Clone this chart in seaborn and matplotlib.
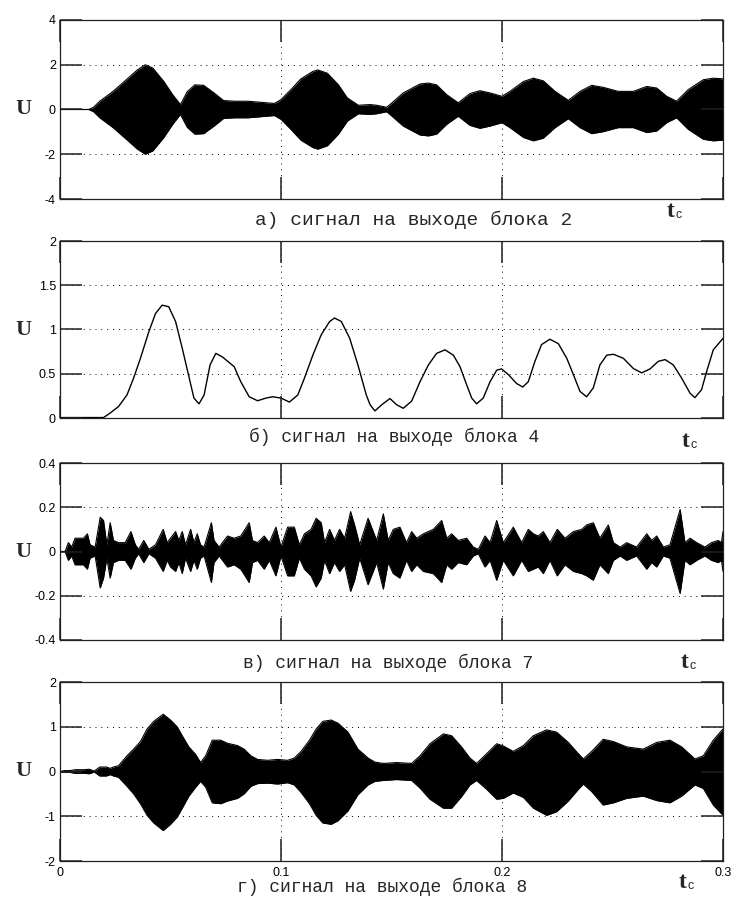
import numpy as np
import matplotlib.pyplot as plt
import seaborn as sns

# ---- values (time in s, signal U) ----
# panel a) envelope of the modulated carrier, block 2 (symmetric)
p1_t = [0.0, 0.013, 0.0152, 0.018, 0.024, 0.030, 0.035, 0.0386, 0.042, 0.047,
        0.051, 0.0545, 0.0576, 0.061, 0.065, 0.0697, 0.074, 0.079, 0.085, 0.091,
        0.097, 0.100, 0.1045, 0.109, 0.1144, 0.1167, 0.121, 0.126, 0.130, 0.135,
        0.1403, 0.1433, 0.1478, 0.1493, 0.1553, 0.1629, 0.1667, 0.1704, 0.175, 0.1802,
        0.1855, 0.19, 0.1946, 0.2, 0.2036, 0.2097, 0.2142, 0.2187, 0.224, 0.23,
        0.2353, 0.2406, 0.2458, 0.2526, 0.2594, 0.2655, 0.27, 0.2745, 0.279, 0.2843,
        0.2911, 0.2956, 0.3]
p1_amp = [0.0, 0.0, 0.1, 0.37, 0.81, 1.33, 1.77, 2.0, 1.85, 1.25,
          0.66, 0.22, 0.8, 1.1, 1.08, 0.74, 0.4, 0.37, 0.37, 0.32,
          0.27, 0.44, 0.89, 1.37, 1.7, 1.77, 1.62, 1.1, 0.52, 0.19,
          0.22, 0.19, 0.1, 0.22, 0.74, 1.14, 1.18, 1.1, 0.66, 0.3,
          0.71, 0.84, 0.74, 0.59, 0.81, 1.25, 1.4, 1.28, 0.81, 0.41,
          0.81, 1.08, 0.99, 0.81, 0.81, 1.03, 0.96, 0.59, 0.37, 0.89,
          1.33, 1.4, 1.37]

# panel б) smooth output of block 4
p2_t = [0.0, 0.0197, 0.0227, 0.0265, 0.0303, 0.0333, 0.0364, 0.0402, 0.0432, 0.0462,
        0.0492, 0.0523, 0.0553, 0.0583, 0.0606, 0.0629, 0.0652, 0.0679, 0.0705, 0.0735,
        0.0788, 0.0818, 0.0856, 0.0894, 0.0932, 0.0962, 0.1, 0.1038, 0.1076, 0.1106,
        0.1144, 0.1182, 0.122, 0.1242, 0.1273, 0.1311, 0.1348, 0.1386, 0.1403, 0.1425,
        0.1456, 0.1493, 0.1523, 0.1553, 0.1591, 0.1629, 0.1667, 0.1704, 0.1742, 0.178,
        0.181, 0.184, 0.1863, 0.1885, 0.1915, 0.1946, 0.1976, 0.1998, 0.2029, 0.2066,
        0.2094, 0.2119, 0.2149, 0.2179, 0.2217, 0.2255, 0.2293, 0.2323, 0.2353, 0.2383,
        0.2413, 0.2443, 0.2474, 0.2504, 0.2549, 0.2594, 0.2632, 0.267, 0.2707, 0.2738,
        0.2775, 0.2813, 0.2851, 0.2873, 0.2903, 0.2926, 0.2956, 0.3]
p2_u = [0.005, 0.005, 0.056, 0.13, 0.26, 0.45, 0.675, 0.975, 1.18, 1.275,
        1.257, 1.09, 0.79, 0.47, 0.225, 0.16, 0.26, 0.6, 0.73, 0.69,
        0.58, 0.41, 0.24, 0.195, 0.225, 0.24, 0.225, 0.18, 0.26, 0.45,
        0.71, 0.94, 1.09, 1.13, 1.09, 0.90, 0.6, 0.26, 0.15, 0.08,
        0.15, 0.22, 0.15, 0.11, 0.19, 0.41, 0.6, 0.73, 0.77, 0.71,
        0.58, 0.375, 0.225, 0.16, 0.225, 0.41, 0.54, 0.555, 0.49, 0.39,
        0.35, 0.41, 0.64, 0.83, 0.89, 0.84, 0.675, 0.49, 0.3, 0.24,
        0.34, 0.6, 0.71, 0.72, 0.675, 0.56, 0.51, 0.555, 0.64, 0.66,
        0.6, 0.45, 0.28, 0.23, 0.32, 0.525, 0.77, 0.9]

# panel в) bursty output of block 7 (upper / lower envelope)
p3_t = [0.0, 0.0023, 0.0038, 0.0053, 0.0068, 0.0106, 0.0124, 0.0136, 0.0159, 0.0182,
        0.0197, 0.0212, 0.0227, 0.0242, 0.0265, 0.0295, 0.0321, 0.0341, 0.0356, 0.0379,
        0.0402, 0.0432, 0.0467, 0.0485, 0.05, 0.0523, 0.0538, 0.0553, 0.0568, 0.0591,
        0.0606, 0.0621, 0.0636, 0.0652, 0.0685, 0.0697, 0.072, 0.0758, 0.0788, 0.0818,
        0.0856, 0.0871, 0.0894, 0.0924, 0.0947, 0.0977, 0.1, 0.103, 0.106, 0.1083,
        0.1106, 0.1136, 0.1159, 0.1182, 0.1197, 0.122, 0.1242, 0.1265, 0.1288, 0.1315,
        0.1333, 0.1356, 0.1394, 0.1433, 0.1463, 0.1485, 0.1508, 0.1538, 0.1568, 0.1591,
        0.1614, 0.1644, 0.1689, 0.1727, 0.175, 0.1772, 0.1802, 0.184, 0.187, 0.1893,
        0.1923, 0.1946, 0.1976, 0.2006, 0.2051, 0.2089, 0.2119, 0.2142, 0.2164, 0.2187,
        0.2217, 0.225, 0.2285, 0.2323, 0.2361, 0.2383, 0.2413, 0.2443, 0.2481, 0.2504,
        0.2535, 0.2564, 0.2609, 0.2655, 0.2677, 0.27, 0.273, 0.276, 0.2806, 0.2828,
        0.2851, 0.2881, 0.2918, 0.2948, 0.2978, 0.2993, 0.3]
p3_top = [0.0, 0.0, 0.04, 0.02, 0.06, 0.06, 0.08, 0.03, 0.02, 0.155,
          0.14, 0.03, 0.13, 0.05, 0.04, 0.04, 0.09, 0.03, 0.01, 0.05,
          0.01, 0.03, 0.10, 0.04, 0.06, 0.09, 0.05, 0.09, 0.03, 0.10,
          0.04, 0.08, 0.03, 0.02, 0.13, 0.05, 0.02, 0.07, 0.06, 0.07,
          0.13, 0.05, 0.04, 0.07, 0.04, 0.11, 0.02, 0.11, 0.11, 0.03,
          0.08, 0.10, 0.15, 0.13, 0.04, 0.10, 0.05, 0.10, 0.06, 0.18,
          0.12, 0.03, 0.15, 0.05, 0.17, 0.05, 0.10, 0.11, 0.04, 0.09,
          0.06, 0.08, 0.10, 0.14, 0.06, 0.08, 0.05, 0.06, 0.02, 0.01,
          0.07, 0.04, 0.14, 0.04, 0.11, 0.04, 0.10, 0.08, 0.07, 0.09,
          0.04, 0.10, 0.06, 0.09, 0.10, 0.12, 0.13, 0.06, 0.12, 0.04,
          0.02, 0.04, 0.02, 0.08, 0.05, 0.07, 0.02, 0.03, 0.19, 0.04,
          0.06, 0.04, 0.02, 0.04, 0.05, 0.04, 0.09]
p3_bot = [0.0, 0.0, -0.04, -0.02, -0.06, -0.06, -0.08, -0.03, -0.02, -0.165,
          -0.12, -0.03, -0.12, -0.05, -0.04, -0.04, -0.08, -0.03, -0.01, -0.05,
          -0.01, -0.03, -0.09, -0.04, -0.07, -0.09, -0.05, -0.10, -0.03, -0.09,
          -0.04, -0.08, -0.03, -0.02, -0.14, -0.05, -0.02, -0.07, -0.06, -0.08,
          -0.14, -0.05, -0.04, -0.08, -0.04, -0.11, -0.02, -0.11, -0.11, -0.03,
          -0.08, -0.11, -0.16, -0.12, -0.04, -0.10, -0.05, -0.09, -0.06, -0.18,
          -0.13, -0.03, -0.15, -0.05, -0.17, -0.05, -0.10, -0.12, -0.04, -0.09,
          -0.06, -0.09, -0.10, -0.14, -0.06, -0.08, -0.05, -0.06, -0.02, -0.01,
          -0.07, -0.04, -0.13, -0.04, -0.11, -0.04, -0.09, -0.08, -0.07, -0.10,
          -0.04, -0.11, -0.06, -0.09, -0.10, -0.11, -0.13, -0.06, -0.10, -0.04,
          -0.02, -0.04, -0.02, -0.08, -0.05, -0.07, -0.02, -0.03, -0.19, -0.04,
          -0.06, -0.04, -0.02, -0.04, -0.05, -0.04, -0.09]

# panel г) output of block 8 (upper / lower envelope)
p4_t = [0.0, 0.002, 0.0045, 0.0068, 0.0106, 0.0133, 0.0155, 0.018, 0.021, 0.0227,
        0.0242, 0.0265, 0.0303, 0.0333, 0.0364, 0.0394, 0.0424, 0.0467, 0.05, 0.053,
        0.0553, 0.0583, 0.0614, 0.0636, 0.0659, 0.0689, 0.0727, 0.0758, 0.0803, 0.0833,
        0.0864, 0.0894, 0.0939, 0.0985, 0.103, 0.106, 0.1091, 0.1129, 0.1159, 0.1189,
        0.1227, 0.1258, 0.1303, 0.1348, 0.1394, 0.1425, 0.1463, 0.1523, 0.1591, 0.1629,
        0.1674, 0.1735, 0.1772, 0.1817, 0.1855, 0.1885, 0.1931, 0.1976, 0.2006, 0.2051,
        0.2097, 0.2142, 0.2202, 0.2247, 0.23, 0.2345, 0.2368, 0.2406, 0.2458, 0.2504,
        0.2564, 0.2639, 0.27, 0.276, 0.2813, 0.2873, 0.2911, 0.2956, 0.3]
p4_top = [0.0, 0.02, 0.02, 0.04, 0.04, 0.05, 0.01, 0.10, 0.10, 0.07,
          0.10, 0.13, 0.35, 0.50, 0.67, 0.95, 1.12, 1.28, 1.15, 1.00,
          0.80, 0.55, 0.38, 0.20, 0.35, 0.70, 0.70, 0.63, 0.58, 0.50,
          0.35, 0.27, 0.25, 0.27, 0.25, 0.30, 0.45, 0.70, 0.95, 1.12,
          1.15, 1.08, 0.88, 0.50, 0.30, 0.21, 0.18, 0.20, 0.18, 0.35,
          0.62, 0.84, 0.80, 0.55, 0.30, 0.18, 0.40, 0.62, 0.57, 0.45,
          0.58, 0.80, 0.93, 0.88, 0.65, 0.40, 0.28, 0.45, 0.72, 0.67,
          0.55, 0.50, 0.65, 0.70, 0.55, 0.28, 0.35, 0.70, 0.95]
p4_bot = [0.0, -0.02, -0.02, -0.04, -0.04, -0.05, -0.01, -0.10, -0.10, -0.07,
          -0.10, -0.13, -0.33, -0.50, -0.72, -0.98, -1.15, -1.32, -1.18, -1.02,
          -0.82, -0.55, -0.35, -0.22, -0.35, -0.70, -0.72, -0.66, -0.60, -0.50,
          -0.33, -0.27, -0.26, -0.28, -0.25, -0.30, -0.47, -0.72, -0.98, -1.15,
          -1.18, -1.10, -0.88, -0.52, -0.30, -0.22, -0.20, -0.18, -0.20, -0.37,
          -0.62, -0.82, -0.82, -0.56, -0.30, -0.20, -0.40, -0.62, -0.60, -0.48,
          -0.58, -0.82, -0.98, -0.90, -0.66, -0.40, -0.28, -0.45, -0.75, -0.70,
          -0.60, -0.55, -0.65, -0.70, -0.55, -0.30, -0.38, -0.75, -0.98]

x_ticks = [0, 0.1, 0.2, 0.3]
x_labels = ["0", "0.1", "0.2", "0.3"]
y_ticks = [[-4, -2, 0, 2, 4], [0, 0.5, 1, 1.5, 2], [-0.4, -0.2, 0, 0.2, 0.4], [-2, -1, 0, 1, 2]]
y_labels = [["-4", "-2", "0", "2", "4"], ["0", "0.5", "1", "1.5", "2"],
            ["-0.4", "-0.2", "0", "0.2", "0.4"], ["-2", "-1", "0", "1", "2"]]
captions = ["а) сигнал на выходе блока 2", "б) сигнал на выходе блока 4",
            "в) сигнал на выходе блока 7", "г) сигнал на выходе блока 8"]

frame = "#202020"
sns.set_style("ticks")
plt.rcParams["font.family"] = ["Liberation Sans", "DejaVu Sans"]
plt.rcParams["axes.axisbelow"] = False

W, H = 737, 905
fig = plt.figure(figsize=(W / 100, H / 100), dpi=100)

# axes boxes in pixels: (top, bottom)
boxes = [(20, 199), (241, 418), (463, 640), (682, 861)]
cap_pos = [(414, 225, 14), (394, 442, 13), (388, 668, 13), (382, 892, 13)]
t_pos = [(675, 217), (690, 447), (689, 668), (687, 888)]

axes = []
for i, (top, bot) in enumerate(boxes):
    ax = fig.add_axes([60 / W, 1 - bot / H, 663 / W, (bot - top) / H])
    axes.append(ax)

# a)
ax = axes[0]
amp = np.array(p1_amp)
sns.lineplot(x=p1_t, y=amp, ax=ax, color="k", linewidth=0.8)
sns.lineplot(x=p1_t, y=-amp, ax=ax, color="k", linewidth=0.8)
ax.fill_between(p1_t, -amp, amp, color="k", linewidth=0)

# б)
sns.lineplot(x=p2_t, y=p2_u, ax=axes[1], color="k", linewidth=1.0)

# в)
ax = axes[2]
sns.lineplot(x=p3_t, y=p3_top, ax=ax, color="k", linewidth=0.8)
sns.lineplot(x=p3_t, y=p3_bot, ax=ax, color="k", linewidth=0.8)
ax.fill_between(p3_t, p3_bot, p3_top, color="k", linewidth=0)

# г)
ax = axes[3]
sns.lineplot(x=p4_t, y=p4_top, ax=ax, color="k", linewidth=0.8)
sns.lineplot(x=p4_t, y=p4_bot, ax=ax, color="k", linewidth=0.8)
ax.fill_between(p4_t, p4_bot, p4_top, color="k", linewidth=0)

for i, ax in enumerate(axes):
    top, bot = boxes[i]
    ax.set_xlim(0, 0.3)
    ax.set_ylim(y_ticks[i][0], y_ticks[i][-1])
    ax.set_yticks(y_ticks[i])
    ax.set_yticklabels(y_labels[i])
    ax.set_xticks(x_ticks)
    if i == 3:
        ax.set_xticklabels(x_labels)
    else:
        ax.set_xticklabels([""] * len(x_ticks))
    ax.set_xlabel("")
    ax.set_ylabel("")
    # long inward MATLAB-style ticks on all four sides
    ax.tick_params(direction="in", length=16, width=1.1, color=frame,
                   top=True, right=True, labelsize=9, labelcolor="black", zorder=5)
    ax.tick_params(axis="y", pad=3)
    ax.tick_params(axis="x", pad=4)
    for s in ax.spines.values():
        s.set_color(frame)
        s.set_linewidth(0.9)

    # dotted grid on the inner ticks
    for yv in y_ticks[i][1:-1]:
        ax.axhline(yv, color="k", linestyle=(0, (1, 5)), linewidth=0.7, zorder=0.4)
    for xv in x_ticks[1:-1]:
        ax.axvline(xv, color="k", linestyle=(0, (1, 5)), linewidth=0.7, zorder=0.4)

    yc = (top + bot) / 2
    fig.text(23.5 / W, 1 - yc / H, "U", family="Liberation Serif", weight="bold",
             fontsize=16, ha="center", va="center")
    cx, cy, cs = cap_pos[i]
    fig.text(cx / W, 1 - cy / H, captions[i], family="Liberation Mono",
             fontsize=cs, ha="center", va="baseline")
    tx, ty = t_pos[i]
    fig.text(tx / W, 1 - ty / H, "t", family="Liberation Serif", weight="bold",
             fontsize=17, ha="right", va="baseline")
    fig.text((tx + 0.5) / W, 1 - (ty + 1) / H, "c", family="Liberation Sans",
             fontsize=9, ha="left", va="baseline")

fig.savefig("out.png", dpi=100, facecolor="white")
